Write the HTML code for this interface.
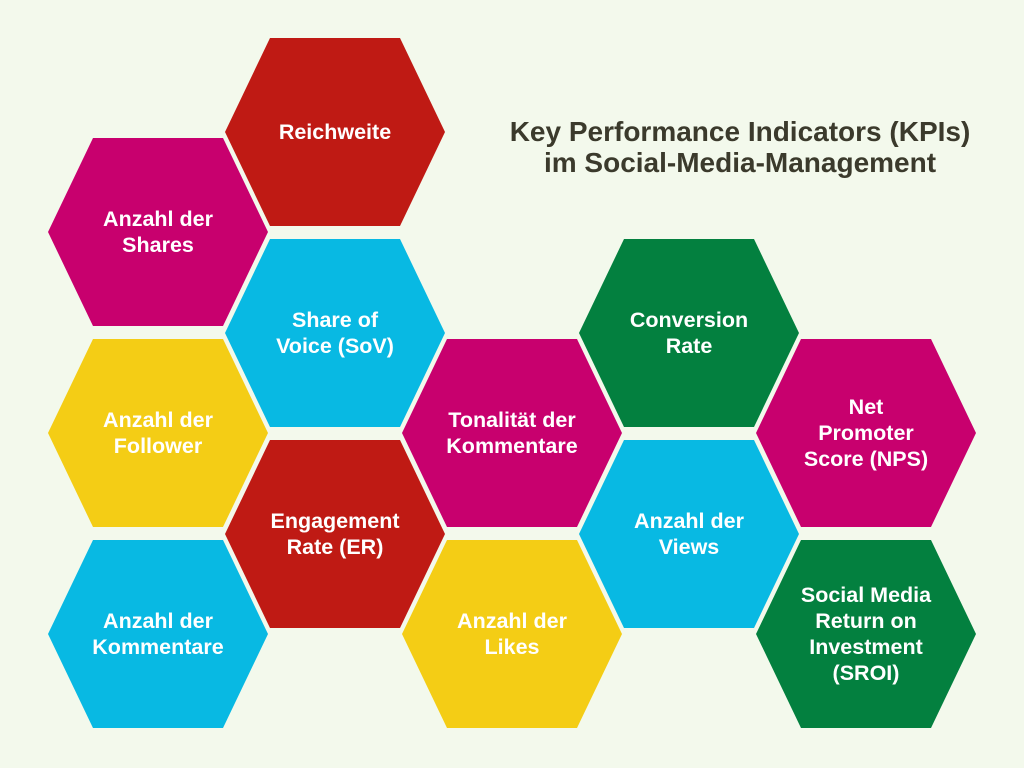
<!DOCTYPE html>
<html><head><meta charset="utf-8"><style>
html,body{margin:0;padding:0;background:#f3f9ec;}
svg{display:block;}
text{font-family:"Liberation Sans","DejaVu Sans",sans-serif;font-weight:bold;}
</style></head><body>
<svg id="s" width="1024" height="768" viewBox="0 0 1024 768">
<rect width="1024" height="768" fill="#f3f9ec"/>
<text x="740" y="141" text-anchor="middle" font-size="28" fill="#3b3a2c">Key Performance Indicators (KPIs)</text>
<text x="740" y="172" text-anchor="middle" font-size="28" fill="#3b3a2c">im Social-Media-Management</text>
</svg>
<script>
const labels=[["Reichweite"],["Anzahl der","Shares"],["Share of","Voice (SoV)"],["Anzahl der","Follower"],["Engagement","Rate (ER)"],["Anzahl der","Kommentare"],["Tonalität der","Kommentare"],["Anzahl der","Likes"],["Conversion","Rate"],["Anzahl der","Views"],["Net","Promoter","Score (NPS)"],["Social Media","Return on","Investment","(SROI)"]];
const centersX=[335,158,335,158,335,158,512,512,689,689,866,866];
const centersY=[132,232,333,433,534,634,433,634,333,534,433,634];
const colors=["#bf1a14","#c8006e","#08b9e3","#f4cd15","#bf1a14","#08b9e3","#c8006e","#f4cd15","#03803f","#08b9e3","#c8006e","#03803f"];
const names=["reichweite","anzahl-shares","share-of-voice","anzahl-follower","engagement-rate","anzahl-kommentare","tonalitaet-kommentare","anzahl-likes","conversion-rate","anzahl-views","net-promoter-score","sroi"];
const svg=document.getElementById('s');const NS="http://www.w3.org/2000/svg";
labels.forEach((lab,i)=>{
 const cx=centersX[i],cy=centersY[i];
 const g=document.createElementNS(NS,'g');
 
 
 const p=document.createElementNS(NS,'polygon');
 p.setAttribute('points',`${cx-110},${cy} ${cx-65},${cy-94} ${cx+65},${cy-94} ${cx+110},${cy} ${cx+65},${cy+94} ${cx-65},${cy+94}`);
 p.setAttribute('fill',colors[i]);
 
 
 g.appendChild(p);
 const lh=26,start=cy-(lab.length-1)*lh/2+7;
 lab.forEach((l,j)=>{
  const t=document.createElementNS(NS,'text');
  t.setAttribute('x',cx);t.setAttribute('y',start+j*lh);
  t.setAttribute('text-anchor','middle');t.setAttribute('font-size','21.5');t.setAttribute('fill','#ffffff');
  
  
  t.textContent=l;g.appendChild(t);
 });
 svg.appendChild(g);
});
</script>
</body></html>
